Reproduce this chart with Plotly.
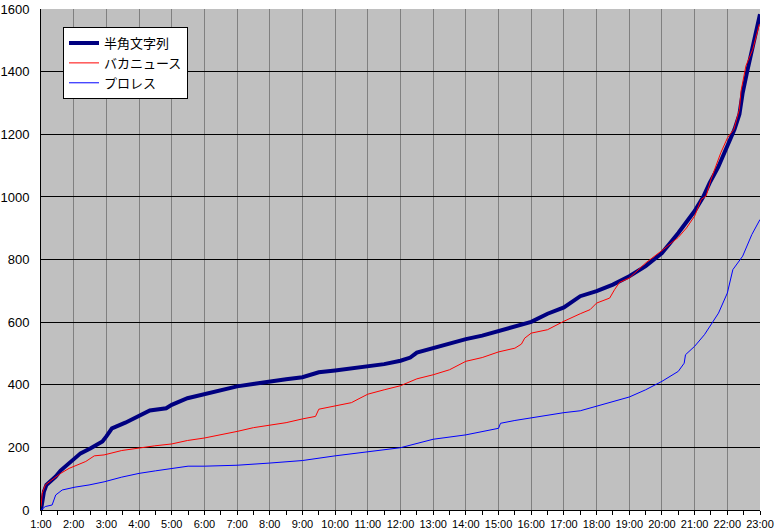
import plotly.graph_objects as go

# ---- data (hours as decimal) ----
hour_ticks = list(range(1, 24))
hour_labels = [f"{h}:00" for h in hour_ticks]
y_ticks = [0, 200, 400, 600, 800, 1000, 1200, 1400, 1600]

navy_name = "半角文字列"
navy_t = [1.0, 1.04, 1.09, 1.165, 1.3, 1.45, 1.6, 1.86, 2.04, 2.21, 2.52, 2.88, 3.0, 3.17, 3.58,
          4.0, 4.33, 4.83, 5.0, 5.48, 6.0, 6.52, 7.0, 7.54, 8.0, 8.5, 9.0, 9.5, 10.0, 10.5, 11.0,
          11.5, 12.0, 12.3, 12.5, 13.0, 13.5, 14.0, 14.5, 15.0, 15.5, 16.0, 16.5, 17.0, 17.5, 18.0,
          18.5, 19.0, 19.5, 20.0, 20.5, 21.0, 21.26, 21.46, 21.72, 21.92, 22.07, 22.22, 22.37, 22.47,
          22.6, 22.73, 22.89, 23.0]
navy_v = [0, 27, 59, 80, 91, 107, 126, 149, 165, 181, 197, 219, 235, 261, 279,
          301, 318, 325, 336, 357, 371, 382, 395, 403, 411, 418, 424, 440, 446, 453, 459,
          466, 477, 487, 503, 517, 533, 546, 557, 572, 586, 601, 627, 647, 683, 699,
          720, 747, 779, 821, 885, 955, 1000, 1045, 1095, 1145, 1184, 1216, 1264, 1333,
          1397, 1456, 1525, 1584]

red_name = "バカニュース"
red_t = [1.0, 1.04, 1.13, 1.34, 1.6, 1.86, 2.04, 2.37, 2.63, 2.93, 3.47, 4.0, 4.48, 5.0, 5.48,
         6.0, 6.5, 7.0, 7.5, 8.0, 8.5, 9.0, 9.4, 9.5, 10.0, 10.5, 10.7, 11.0, 11.5, 12.0, 12.5,
         13.0, 13.5, 14.0, 14.5, 15.0, 15.5, 15.7, 15.8, 16.0, 16.5, 17.0, 17.5, 17.8, 18.0, 18.4,
         18.55, 18.7, 19.0, 19.5, 20.0, 20.5, 20.75, 21.0, 21.2, 21.35, 21.5, 21.8, 22.01, 22.2,
         22.37, 22.42, 22.57, 22.78, 22.98]
red_v = [11, 54, 80, 96, 117, 133, 141, 155, 173, 176, 190, 199, 205, 211, 222,
         230, 240, 251, 263, 271, 279, 291, 299, 322, 333, 343, 354, 370, 384, 397, 419,
         432, 448, 475, 487, 505, 517, 530, 549, 565, 576, 603, 627, 640, 661, 677,
         704, 727, 741, 789, 829, 871, 901, 939, 992, 1003, 1056, 1141, 1190, 1216,
         1280, 1339, 1419, 1472, 1552]

blue_name = "プロレス"
blue_t = [1.0, 1.13, 1.34, 1.4, 1.45, 1.65, 2.04, 2.47, 2.93, 3.47, 4.0, 4.5, 5.0, 5.5, 6.0, 7.0,
          8.0, 9.0, 10.0, 11.0, 12.0, 13.0, 14.0, 15.0, 15.06, 15.5, 16.0, 16.5, 17.0, 17.5, 18.0,
          18.5, 19.0, 19.5, 20.0, 20.5, 20.68, 20.72, 21.0, 21.3, 21.5, 21.73, 22.0, 22.17, 22.47,
          22.75, 23.0]
blue_v = [0, 11, 16, 32, 48, 64, 73, 80, 90, 105, 117, 125, 133, 140, 140, 143,
          150, 158, 173, 187, 199, 226, 240, 261, 277, 286, 295, 304, 311, 317, 331,
          347, 361, 384, 411, 443, 469, 496, 523, 560, 592, 629, 693, 768, 811,
          880, 928]

JP_FONT = "Noto Sans CJK JP"
NUM_FONT = "Liberation Sans"

fig = go.Figure()
fig.add_trace(go.Scatter(x=navy_t, y=navy_v, name=navy_name, mode="lines",
                         line=dict(color="#000080", width=4)))
fig.add_trace(go.Scatter(x=red_t, y=red_v, name=red_name, mode="lines",
                         line=dict(color="#FF0000", width=1)))
fig.add_trace(go.Scatter(x=blue_t, y=blue_v, name=blue_name, mode="lines",
                         line=dict(color="#0000FF", width=1)))

fig.update_layout(
    width=775, height=530,
    margin=dict(l=41, r=15, t=9, b=20, autoexpand=False),
    paper_bgcolor="white",
    plot_bgcolor="#C0C0C0",
    font=dict(family=NUM_FONT, size=12, color="black"),
    showlegend=True,
    legend=dict(x=0.0306, y=0.964, xanchor="left", yanchor="top",
                bgcolor="white", bordercolor="black", borderwidth=1,
                font=dict(family=JP_FONT, size=13, color="black"),
                tracegroupgap=0, itemwidth=30),
)
fig.update_xaxes(
    range=[1, 23], tickmode="array", tickvals=hour_ticks, ticktext=hour_labels,
    showgrid=True, gridcolor="#808080", gridwidth=1,
    showline=True, linecolor="black", linewidth=1,
    ticks="outside", ticklen=4, tickcolor="black",
    minor=dict(dtick=0.5, tick0=1, ticks="outside", ticklen=4, tickcolor="black", showgrid=False),
    tickfont=dict(family=NUM_FONT, size=11), zeroline=False, automargin=False,
)
fig.update_yaxes(
    range=[0, 1600.5], tickmode="array", tickvals=y_ticks,
    showgrid=True, gridcolor="black", gridwidth=1,
    showline=True, linecolor="black", linewidth=1,
    ticks="", tickfont=dict(family=NUM_FONT, size=13), zeroline=False,
    ticklabelstandoff=8, automargin=False,
)

fig.write_html("out.html", config={"displayModeBar": False},
               post_script="document.body.style.margin='0px';")
